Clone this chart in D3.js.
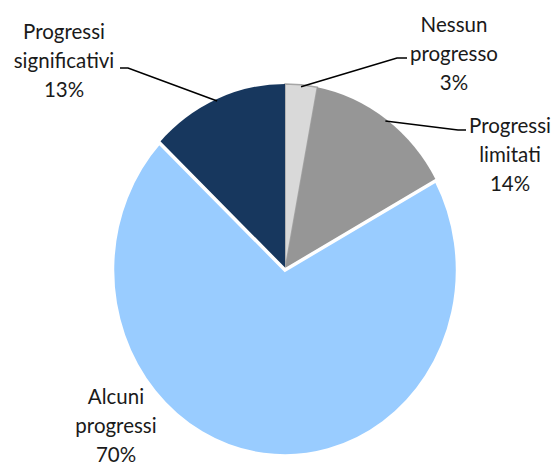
<!DOCTYPE html>
<html>
<head>
<meta charset="utf-8">
<script src="https://cdn.jsdelivr.net/npm/d3@7"></script>
<style>
  html, body { margin: 0; padding: 0; background: #fff; }
  svg text { font-family: Lato, "Open Sans", sans-serif; fill: #1a1a1a; }
</style>
</head>
<body>
<div id="chart"></div>
<script>
const width = 555;
const height = 466;

// data
const categories = ["Nessun progresso", "Progressi limitati", "Alcuni progressi", "Progressi significativi"];
const values = [3, 14, 70, 13];
const labelLines = [["Nessun", "progresso"], ["Progressi", "limitati"], ["Alcuni", "progressi"], ["Progressi", "significativi"]];
const colors = ["#d9d9d9", "#969696", "#99ccff", "#17375e"];

// layout
const cx = 285, cy = 270;
const rx = 172.5, ry = 186;
const labelPos = [
  { x: 454, y: 25, elbow: [397, 58], end: [407, 58] },
  { x: 510, y: 126, elbow: [458, 130], end: [466, 130] },
  { x: 116, y: 397, elbow: null, end: null },
  { x: 64, y: 32, elbow: [128, 68], end: [120, 68] }
];

const svg = d3.select("#chart")
  .append("svg")
  .attr("width", width)
  .attr("height", height);

const pie = d3.pie().sort(null).value(d => d);
const arcs = pie(values);
const arc = d3.arc().innerRadius(0).outerRadius(rx);

const g = svg.append("g")
  .attr("transform", `translate(${cx},${cy}) scale(1,${ry / rx})`);

g.selectAll("path")
  .data(arcs)
  .join("path")
  .attr("d", arc)
  .attr("fill", (d, i) => colors[i])
  .attr("stroke", (d, i) => i == 0 ? "#a6a6a6" : i == 2 ? "#ffffff" : "none")
  .attr("stroke-width", (d, i) => i == 0 ? 1.5 : 3.5)
  .attr("stroke-linejoin", "miter")
  .attr("vector-effect", "non-scaling-stroke");

// bring blue slice border on top
g.selectAll("path").filter((d, i) => i == 2).raise();

// leader lines
arcs.forEach((d, i) => {
  const p = labelPos[i];
  if (!p.elbow) return;
  const a = (d.startAngle + d.endAngle) / 2;
  const sx = cx + rx * 0.99 * Math.sin(a);
  const sy = cy - ry * 0.99 * Math.cos(a);
  svg.append("polyline")
    .attr("points", [[sx, sy], p.elbow, p.end].map(q => q.join(",")).join(" "))
    .attr("fill", "none")
    .attr("stroke", "#000")
    .attr("stroke-width", 1.6);
});

// labels
arcs.forEach((d, i) => {
  const p = labelPos[i];
  const lines = labelLines[i].concat([values[i] + "%"]);
  const t = svg.append("text")
    .attr("text-anchor", "middle")
    .attr("font-size", 20.5);
  lines.forEach((s, k) => {
    t.append("tspan")
      .attr("x", p.x)
      .attr("y", p.y + k * 29)
      .attr("dy", "0.35em")
      .text(s);
  });
});
</script>
</body>
</html>
